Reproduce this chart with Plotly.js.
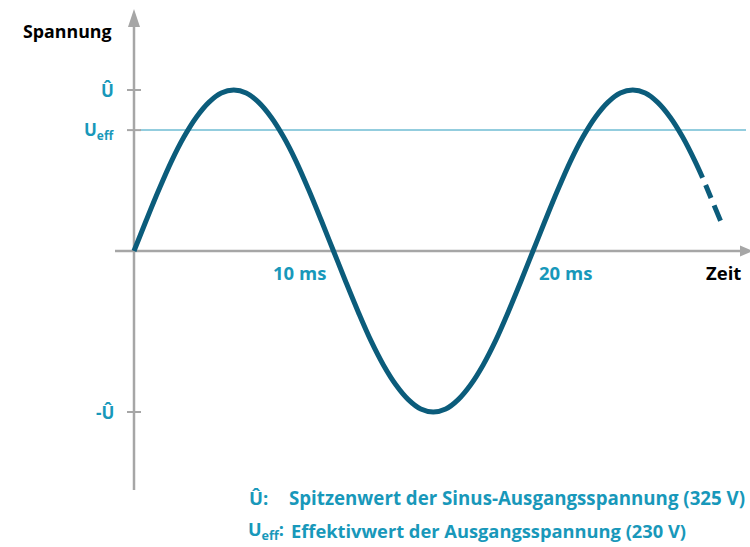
<!DOCTYPE html>
<html>
<head>
<meta charset="utf-8">
<script src="https://cdn.plot.ly/plotly-3.0.1.min.js"></script>
<style>html,body{margin:0;padding:0;background:#fff;}#chart{width:750px;height:547px;}</style>
</head>
<body>
<div id="chart"></div>
<script>
// ---- data ----
const peakVoltage = 325;      // Û
const effVoltage = 244;       // level of the U_eff line as drawn
const timeMs = [0,0.625,1.25,1.875,2.5,3.125,3.75,4.375,5,5.625,6.25,6.875,7.5,8.125,8.75,9.375,
  10,10.625,11.25,11.875,12.5,13.125,13.75,14.375,15,15.625,16.25,16.875,17.5,18.125,18.75,19.375,
  20,20.625,21.25,21.875,22.5,23.125,23.75,24.375,25,25.625,26.25,26.875,27.5,28.125,28.5];
const voltage = [0,63,124,181,230,270,300,319,325,319,300,270,230,181,124,63,
  0,-63,-124,-181,-230,-270,-300,-319,-325,-319,-300,-270,-230,-181,-124,-63,
  0,63,124,181,230,270,300,319,325,319,300,270,230,181,148];
const dashTimeMs = [28.5, 29.4];
const dashVoltage = [148, 61];
const xTickValues = [10, 20];
const xTickLabels = ['10 ms', '20 ms'];
const yTickValues = [peakVoltage, effVoltage, -peakVoltage];
const yTickLabels = ['Û', 'U<sub>eff</sub>', '-Û'];

// ---- styling ----
const curveColor = '#0b5c7b';
const labelColor = '#1898ba';
const axisColor = '#a6a6a6';
const font = 'Open Sans, sans-serif';

const W = 750, H = 547;
const pxPerMs = 19.95, pxPerV = 0.4954, x0px = 134, y0px = 251;
const tx = px => (px - x0px) / pxPerMs;
const vy = py => (y0px - py) / pxPerV;

const traces = [
  {x: timeMs, y: voltage, mode: 'lines', line: {color: curveColor, width: 5, shape: 'spline', smoothing: 1}, hoverinfo: 'skip'},
  {x: dashTimeMs, y: dashVoltage, mode: 'lines', line: {color: curveColor, width: 5, dash: '0px,8px,14px,8px,16px'}, hoverinfo: 'skip'}
];

const shapes = [
  {type: 'line', xref: 'x', yref: 'y', x0: tx(140), x1: tx(746), y0: effVoltage, y1: effVoltage, line: {color: '#6fbcd3', width: 1.5}, layer: 'below'},
  {type: 'line', xref: 'x', yref: 'y', x0: 0, x1: 0, y0: vy(490), y1: vy(25), line: {color: axisColor, width: 2.5}, layer: 'below'},
  {type: 'path', xref: 'x', yref: 'y', path: `M ${tx(128)} ${vy(27)} L ${tx(140)} ${vy(27)} L ${tx(134)} ${vy(9)} Z`, fillcolor: axisColor, line: {width: 0}},
  {type: 'line', xref: 'x', yref: 'y', x0: tx(115), x1: tx(742), y0: 0, y1: 0, line: {color: axisColor, width: 2.5}, layer: 'below'},
  {type: 'path', xref: 'x', yref: 'y', path: `M ${tx(740)} ${vy(245.5)} L ${tx(740)} ${vy(256.5)} L ${tx(753)} ${vy(251)} Z`, fillcolor: axisColor, line: {width: 0}}
];
yTickValues.forEach(v => shapes.push({type: 'line', xref: 'x', yref: 'y', x0: tx(127), x1: tx(141), y0: v, y1: v, line: {color: axisColor, width: 2}, layer: 'below'}));

const annotations = [];
yTickValues.forEach((v, i) => annotations.push({
  xref: 'x', yref: 'y', x: tx(116), y: v, xanchor: 'right', yanchor: 'middle', text: `<b>${yTickLabels[i]}</b>`,
  showarrow: false, font: {family: font, size: 17, color: labelColor}
}));
annotations.push({xref: 'x', yref: 'y', x: xTickValues[0], y: vy(272), xanchor: 'right', xshift: -6, yanchor: 'middle', text: `<b>${xTickLabels[0]}</b>`, showarrow: false, font: {family: font, size: 18.5, color: labelColor}});
annotations.push({xref: 'x', yref: 'y', x: xTickValues[1], y: vy(272), xanchor: 'left', xshift: 4, yanchor: 'middle', text: `<b>${xTickLabels[1]}</b>`, showarrow: false, font: {family: font, size: 18.5, color: labelColor}});
annotations.push({xref: 'paper', yref: 'paper', x: 21 / W, y: 1 - 31 / H, xanchor: 'left', yanchor: 'middle', text: '<b>Spannung</b>', showarrow: false, font: {family: font, size: 17.8, color: '#000'}});
annotations.push({xref: 'paper', yref: 'paper', x: 743 / W, y: 1 - 272 / H, xanchor: 'right', yanchor: 'middle', text: '<b>Zeit</b>', showarrow: false, font: {family: font, size: 18.5, color: '#000'}});
annotations.push({xref: 'paper', yref: 'paper', x: 247 / W, y: 1 - 497 / H, xanchor: 'left', yanchor: 'middle', text: '<b>Û:</b>', showarrow: false, font: {family: font, size: 18.5, color: labelColor}});
annotations.push({xref: 'paper', yref: 'paper', x: 287 / W, y: 1 - 497 / H, xanchor: 'left', yanchor: 'middle', text: '<b>Spitzenwert der Sinus-Ausgangsspannung (325 V)</b>', showarrow: false, font: {family: font, size: 18.7, color: labelColor}});
annotations.push({xref: 'paper', yref: 'paper', x: 246 / W, y: 1 - 530 / H, xanchor: 'left', yanchor: 'middle', text: '<b>U<sub>eff</sub>:</b>', showarrow: false, font: {family: font, size: 18, color: labelColor}});
annotations.push({xref: 'paper', yref: 'paper', x: 289 / W, y: 1 - 530 / H, xanchor: 'left', yanchor: 'middle', text: '<b>Effektivwert der Ausgangsspannung (230 V)</b>', showarrow: false, font: {family: font, size: 18.3, color: labelColor}});

const layout = {
  width: W, height: H,
  margin: {l: 0, r: 0, t: 0, b: 0, pad: 0},
  paper_bgcolor: '#fff', plot_bgcolor: '#fff',
  showlegend: false,
  xaxis: {range: [tx(0), tx(W)], visible: false, fixedrange: true},
  yaxis: {range: [vy(H), vy(0)], visible: false, fixedrange: true},
  shapes: shapes,
  annotations: annotations
};

Plotly.newPlot('chart', traces, layout, {displayModeBar: false, staticPlot: true});
</script>
</body>
</html>
